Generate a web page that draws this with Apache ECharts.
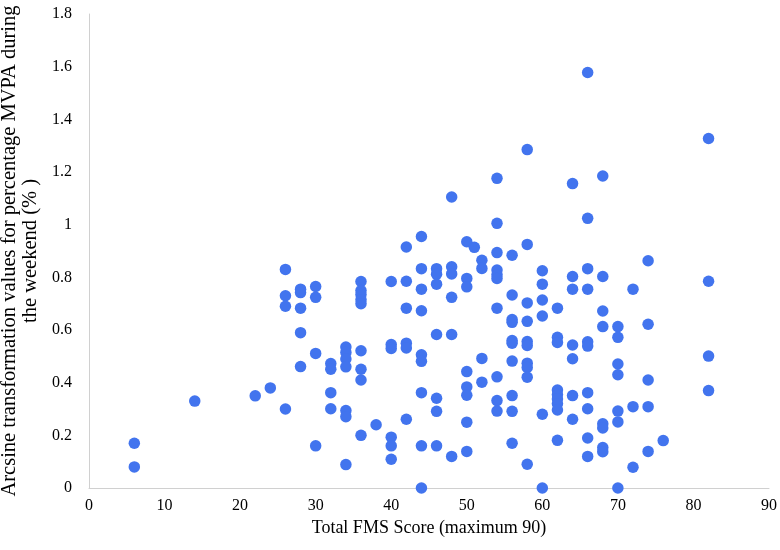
<!DOCTYPE html>
<html>
<head>
<meta charset="utf-8">
<script src="https://cdn.jsdelivr.net/npm/echarts@6/dist/echarts.min.js"></script>
<style>html,body{margin:0;padding:0;background:#fff}#c{width:780px;height:550px}</style>
</head>
<body>
<div id="c"></div>
<script>
// FMS score columns and their weekend MVPA (arcsine) values
const fmsScores = [6, 14, 22, 24, 26, 28, 30, 32, 34, 36, 38, 40, 42, 44, 46, 48, 50, 51, 52, 54, 56, 58, 60, 62, 64, 66, 68, 70, 72, 74, 76, 82];
const mvpaValues = [
  [0.17, 0.08],
  [0.33],
  [0.35],
  [0.38],
  [0.83, 0.73, 0.69, 0.30],
  [0.755, 0.742, 0.683, 0.59, 0.461],
  [0.765, 0.724, 0.511, 0.16],
  [0.473, 0.451, 0.362, 0.301],
  [0.535, 0.515, 0.49, 0.46, 0.294, 0.271, 0.089],
  [0.784, 0.75, 0.735, 0.715, 0.70, 0.521, 0.451, 0.41, 0.20],
  [0.24],
  [0.784, 0.545, 0.53, 0.193, 0.16, 0.109],
  [0.915, 0.785, 0.683, 0.55, 0.532, 0.261],
  [0.955, 0.833, 0.755, 0.673, 0.506, 0.481, 0.362, 0.16, 0.0],
  [0.833, 0.812, 0.774, 0.583, 0.341, 0.291, 0.16],
  [1.105, 0.84, 0.813, 0.724, 0.583, 0.12],
  [0.935, 0.796, 0.764, 0.442, 0.384, 0.352, 0.25, 0.139],
  [0.914],
  [0.865, 0.834, 0.492, 0.402],
  [1.176, 1.005, 0.894, 0.828, 0.81, 0.796, 0.683, 0.422, 0.332, 0.292],
  [0.884, 0.733, 0.64, 0.629, 0.56, 0.55, 0.482, 0.351, 0.291, 0.17],
  [1.285, 0.925, 0.703, 0.633, 0.556, 0.541, 0.474, 0.458, 0.421, 0.09],
  [0.825, 0.774, 0.714, 0.653, 0.28, 0.0],
  [0.683, 0.572, 0.553, 0.372, 0.355, 0.338, 0.32, 0.296, 0.181],
  [1.156, 0.803, 0.755, 0.543, 0.491, 0.351, 0.261],
  [1.578, 1.024, 0.833, 0.755, 0.555, 0.539, 0.362, 0.301, 0.19, 0.12],
  [1.185, 0.803, 0.672, 0.613, 0.244, 0.228, 0.154, 0.138],
  [0.613, 0.572, 0.471, 0.43, 0.292, 0.251, 0.0],
  [0.755, 0.309, 0.079],
  [0.863, 0.622, 0.41, 0.309, 0.139],
  [0.18],
  [1.327, 0.785, 0.501, 0.37]
];
const xTitle = 'Total FMS Score (maximum 90)';
const yTitle = 'Arcsine transformation values for percentage MVPA during\nthe weekend (% )';

const points = [];
fmsScores.forEach((x, i) => mvpaValues[i].forEach(v => points.push([x, v])));

const font = 'Liberation Serif';
const chart = echarts.init(document.getElementById('c'), null, {renderer: 'canvas'});
chart.setOption({
  animation: false,
  backgroundColor: '#ffffff',
  grid: {left: 89, right: 11, top: 14, bottom: 62, containLabel: false, outerBoundsMode: 'none'},
  xAxis: {
    type: 'value', min: 0, max: 90, interval: 10,
    name: xTitle, nameLocation: 'middle', nameGap: 29,
    nameTextStyle: {fontFamily: font, fontSize: 18, color: '#000'},
    axisLine: {show: true, lineStyle: {color: '#d0d0d0', width: 1}},
    axisTick: {show: false},
    splitLine: {show: false},
    axisLabel: {fontFamily: font, fontSize: 16, color: '#000', margin: 10}
  },
  yAxis: {
    type: 'value', min: 0, max: 1.8, interval: 0.2,
    name: yTitle, nameLocation: 'middle', nameGap: 46,
    nameTextStyle: {fontFamily: font, fontSize: 20.5, color: '#000', lineHeight: 21, align: 'center'},
    axisLine: {show: true, lineStyle: {color: '#d0d0d0', width: 1}},
    axisTick: {show: false},
    splitLine: {show: false},
    axisLabel: {fontFamily: font, fontSize: 16, color: '#000', margin: 17}
  },
  series: [{
    type: 'scatter',
    data: points,
    symbol: 'circle',
    symbolSize: 11.5,
    itemStyle: {color: '#4274EE', opacity: 1}
  }]
});
</script>
</body>
</html>
